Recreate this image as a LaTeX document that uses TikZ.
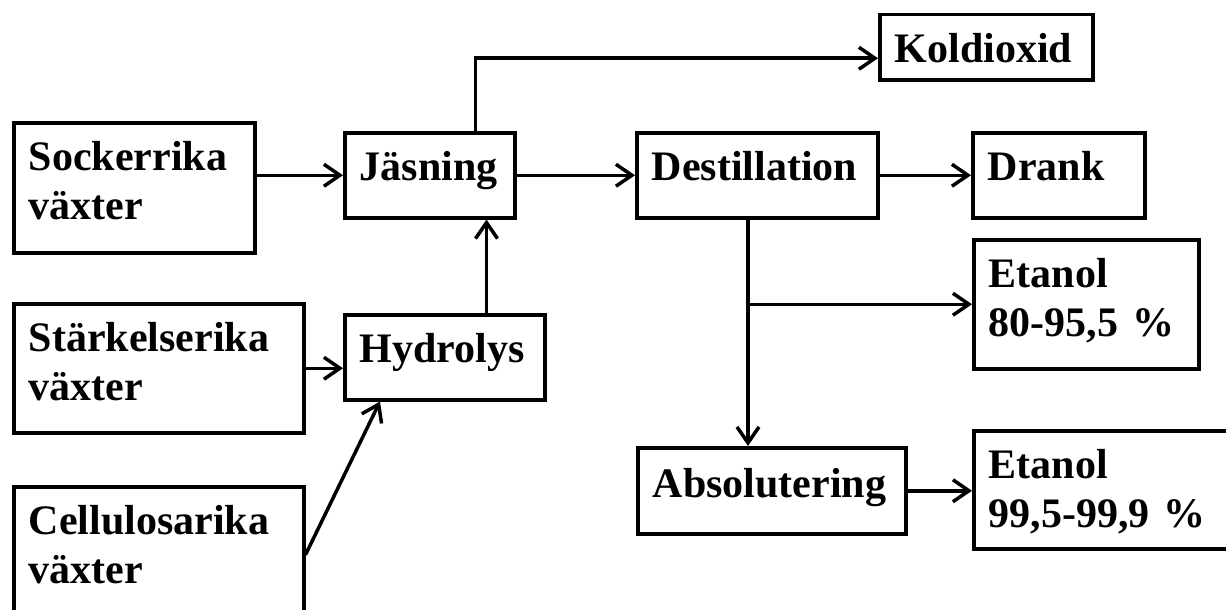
\documentclass[tikz,border=0pt]{standalone}
\usepackage{fontspec}
\setmainfont{Liberation Serif}
\usepackage{tikz}
\usetikzlibrary{arrows.meta,positioning}

\begin{document}
\begin{tikzpicture}[
    x=1pt, y=-1pt,
    proc/.style={rectangle, draw, line width=3.5pt, anchor=north west, align=left,
        inner xsep=15pt, inner ysep=0pt, text height=48pt, text depth=37pt,
        font=\fontsize{42}{49}\selectfont\bfseries},
    arrow/.style={-{Straight Barb[length=16pt,width=22pt]}, line width=3.5pt}
]
    \useasboundingbox (0,0) rectangle (1226,610);

    % raw materials
    \node[proc, text width=211pt, text depth=82pt] (sock) at (12,121) {Sockerrika\\ växter};
    \node[proc, text width=260pt, text depth=81pt] (staerk) at (12,302) {Stärkelserika\\ växter};
    \node[proc, text width=260pt, text depth=88pt] (cell) at (12,485) {Cellulosarika\\ växter};

    % process steps
    \node[proc, text width=140pt] (jaes) at (343,131) {Jäsning};
    \node[proc, text width=170pt] (hydro) at (343,313) {Hydrolys};
    \node[proc, text width=211pt] (dest) at (635,131) {Destillation};
    \node[proc, text width=238pt, text height=50pt, text depth=36pt] (abs) at (636,446) {Absolutering};

    % products
    \node[proc, text width=183pt, text depth=17pt] (kol) at (878,13) {Koldioxid};
    \node[proc, text width=142pt] (drank) at (971,131) {Drank};
    \node[proc, text width=195pt, text depth=81pt] (et80) at (972,238) {Etanol\\ 80-95,5 \%};
    \node[proc, text width=260pt, text depth=70pt] (et99) at (972,429) {Etanol\\ 99,5-99,9 \%};

    \coordinate (co2) at ([yshift=-11pt]kol.west);
    \coordinate (jup) at ([xshift=-41pt]jaes.north east);
    \coordinate (hup) at ([xshift=-60pt]hydro.north east);
    \coordinate (hin) at ([xshift=37pt]hydro.south west);
    \coordinate (ddown) at ([xshift=113pt]dest.south west);
    \coordinate (split) at (ddown |- et80.west);

    \draw[arrow] (sock.east |- jaes.west) -- (jaes.west);
    \draw[arrow] (staerk.east) -- (staerk.east -| hydro.west);
    \draw[arrow] (cell.east) -- (hin);
    \draw[arrow] (hup) -- (hup |- jaes.south);
    \draw[arrow] (jup) |- (co2);
    \draw[arrow] (jaes.east) -- (dest.west);
    \draw[arrow] (dest.east) -- (drank.west);
    \draw[arrow] (ddown) -- (ddown |- abs.north);
    \draw[arrow] (split) -- (et80.west);
    \draw[arrow] (abs.east) -- (abs.east -| et99.west);
\end{tikzpicture}
\end{document}
